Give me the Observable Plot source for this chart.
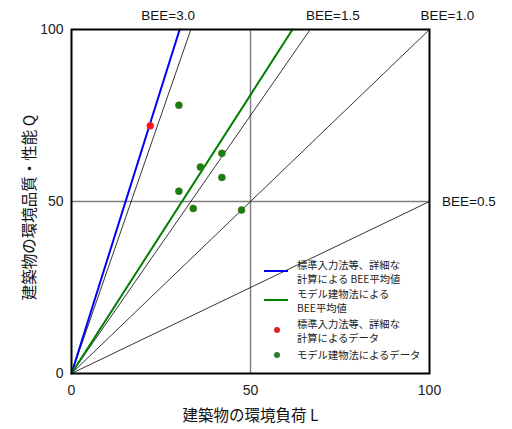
<!DOCTYPE html>
<html><head><meta charset="utf-8">
<script src="https://cdn.jsdelivr.net/npm/d3@7"></script>
<script src="https://cdn.jsdelivr.net/npm/@observablehq/plot@0.6"></script>
<style>
body{margin:0;background:#fff;}
#wrap{position:relative;width:512px;height:429px;font-family:"Noto Sans CJK JP",sans-serif;}
.leg{position:absolute;font-size:10.3px;line-height:14px;color:#222;white-space:nowrap;}
.leg div{height:14px;overflow:visible;}
</style>
</head><body>
<div id="wrap"></div>
<script>
// reference BEE lines
const beeValues = [3.0, 1.5, 1.0, 0.5];
const beeLabels = ["BEE=3.0", "BEE=1.5", "BEE=1.0", "BEE=0.5"];
const beeLabelX = [27, 73, 105, 111];
const beeLabelY = [104, 104, 104, 50];
// average BEE lines
const avgNames = ["標準入力法等、詳細な計算による BEE平均値", "モデル建物法による BEE平均値"];
const avgBee = [3.31, 1.62];
const avgColors = ["#0000ff", "#008000"];
// data points
const redL = [22];
const redQ = [72];
const greenL = [30, 42, 36, 42, 30, 34, 47.5];
const greenQ = [78, 64, 60, 57, 53, 48, 47.5];
const ticks = [0, 50, 100];

const ends = b => [{x:0,y:0,b},{x:Math.min(100,100/b),y:Math.min(100,100*b),b}];
const refLines = beeValues.flatMap(ends);
const avgLines = avgBee.flatMap((b,i)=>ends(b).map(d=>({...d,c:avgColors[i]})));
const labels = beeLabels.map((t,i)=>({t,x:beeLabelX[i],y:beeLabelY[i]}));
const reds = redL.map((x,i)=>({x,y:redQ[i]}));
const greens = greenL.map((x,i)=>({x,y:greenQ[i]}));

const plot = Plot.plot({
  width:512, height:429,
  marginLeft:71, marginRight:83, marginTop:29, marginBottom:56,
  x:{domain:[0,100]}, y:{domain:[0,100]},
  axis:null,
  style:{fontFamily:"'Liberation Sans', Arial, sans-serif", fontSize:"14px", color:"#222", background:"white"},
  marks:[
    Plot.ruleX([50],{stroke:"#808080",strokeWidth:1.5}),
    Plot.ruleY([50],{stroke:"#808080",strokeWidth:1.5}),
    Plot.line(refLines,{x:"x",y:"y",z:"b",stroke:"#000",strokeWidth:0.8}),
    Plot.line(avgLines,{x:"x",y:"y",z:"c",stroke:"c",strokeWidth:2}),
    Plot.dot(greens,{x:"x",y:"y",r:3.5,fill:"#128012",stroke:"#5a6a10",strokeWidth:0.6}),
    Plot.dot(reds,{x:"x",y:"y",r:3.5,fill:"#ff1010",stroke:"#e04040",strokeWidth:0.6}),
    Plot.frame({stroke:"#000",strokeWidth:2}),
    Plot.axisX(ticks,{tickSize:0,tickPadding:12,fontSize:14,label:null}),
    Plot.axisY(ticks,{tickSize:0,tickPadding:8,fontSize:14,label:null}),
    Plot.text(labels,{x:"x",y:"y",text:"t",fontSize:13.5,fill:"#111"}),
    Plot.text(["建築物の環境負荷 L"],{frameAnchor:"bottom",dy:47,fontSize:15.5,fontFamily:"'Noto Sans CJK JP'",fill:"#111"}),
    Plot.text(["建築物の環境品質・性能 Q"],{frameAnchor:"left",dx:-41,dy:6,rotate:-90,textAnchor:"middle",fontSize:15.5,fontFamily:"'Noto Sans CJK JP'",fill:"#111"})
  ]
});
const wrap = document.getElementById("wrap");
wrap.appendChild(plot);

// legend overlay
const legend = [
  {type:"line",color:avgColors[0],lines:["標準入力法等、詳細な","計算による BEE平均値"],y:265},
  {type:"line",color:avgColors[1],lines:["モデル建物法による","BEE平均値"],y:294},
  {type:"dot",color:"#e02020",lines:["標準入力法等、詳細な","計算によるデータ"],y:324},
  {type:"dot",color:"#2e7a2e",lines:["モデル建物法によるデータ"],y:355}
];
for (const e of legend) {
  const sw = document.createElementNS("http://www.w3.org/2000/svg","svg");
  sw.setAttribute("width",26); sw.setAttribute("height",12);
  sw.style.position="absolute"; sw.style.left="264px";
  const cy = e.lines.length===2 ? e.y+6 : e.y;
  sw.style.top=(cy-6)+"px";
  if (e.type==="line") sw.innerHTML=`<line x1="0" x2="24" y1="6" y2="6" stroke="${e.color}" stroke-width="2"/>`;
  else sw.innerHTML=`<circle cx="13" cy="6" r="3" fill="${e.color}"/>`;
  wrap.appendChild(sw);
  const d = document.createElement("div");
  d.className="leg"; d.style.left="297px"; d.style.top=(e.y-7)+"px";
  d.innerHTML=e.lines.map(s=>`<div>${s}</div>`).join("");
  wrap.appendChild(d);
}
</script>
</body></html>
